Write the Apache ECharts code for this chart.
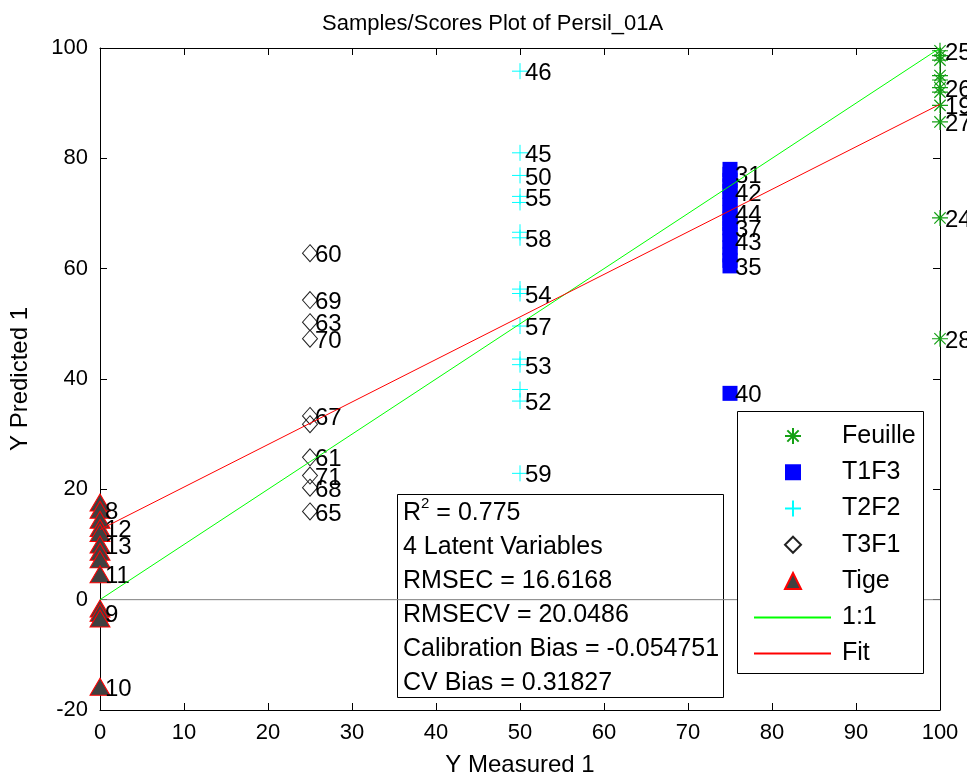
<!DOCTYPE html>
<html>
<head>
<meta charset="utf-8">
<title>Samples/Scores Plot of Persil_01A</title>
<script src="https://cdn.jsdelivr.net/npm/echarts@6/dist/echarts.min.js"></script>
<style>
  html, body { margin: 0; padding: 0; background: #fff; }
  #chart { width: 967px; height: 779px; }
</style>
</head>
<body>
<div id="chart"></div>
<script>
const FONT = '"Liberation Sans", Arial, Helvetica, sans-serif';

// Y measured of each class
const tigeX = 0;
const t3f1X = 25;
const t2f2X = 50;
const t1f3X = 75;
const feuilleX = 100;

// Y predicted, sample labels ('' = label hidden under another one)
const tigeY = [17.6, 16.3, 14.5, 13.0, 12.1, 10.0, 8.7, 7.3, 4.6, -1.6, -2.4, -3.4, -15.8];
const tigeLab = ['', '8', '', '12', '', '13', '', '', '11', '', '9', '', '10'];

const t3f1Y = [62.8, 54.3, 50.3, 47.3, 33.3, 31.8, 25.8, 22.5, 20.3, 16.0];
const t3f1Lab = ['60', '69', '63', '70', '67', '', '61', '71', '68', '65'];

const t2f2Y = [95.8, 81.0, 76.9, 73.1, 72.0, 66.6, 65.6, 56.3, 55.5, 49.6, 43.6, 42.6, 38.1, 36.0, 22.9];
const t2f2Lab = ['46', '45', '50', '55', '', '', '58', '', '54', '57', '', '53', '', '52', '59'];

const t1f3Y = [78.0, 77.1, 76.0, 75.0, 74.0, 72.8, 71.5, 70.2, 69.0, 68.2, 67.4, 66.2, 65.0, 63.8, 62.5, 61.5, 60.5, 37.4];
const t1f3Lab = ['', '31', '', '', '42', '', '', '44', '', '', '37', '', '43', '', '', '', '35', '40'];

const feuilleY = [99.5, 98.6, 97.8, 95.0, 94.2, 92.8, 92.0, 89.6, 86.6, 69.2, 47.3];
const feuilleLab = ['25', '', '', '', '', '26', '', '19', '27', '24', '28'];

const oneToOne = [[0, 0], [100, 100]];
const fitLine = [[0, 12.7], [100, 89.8]];
const zeroLine = [[0, 0], [100, 0]];

const xTicks = { min: 0, max: 100, step: 10 };
const yTicks = { min: -20, max: 100, step: 20 };

const statLines = [
  '{t|R}{sup|2}{t| = 0.775}',
  '4 Latent Variables',
  'RMSEC = 16.6168',
  'RMSECV = 20.0486',
  'Calibration Bias = -0.054751',
  'CV Bias = 0.31827'
];

const markerNames = ['Feuille', 'T1F3', 'T2F2', 'T3F1', 'Tige'];
const lineNames = ['1:1', 'Fit'];
const lineColors = ['#00ff00', '#ff0000'];

function pts(x, ys, labs) {
  return ys.map((y, i) => ({ value: [x, y], name: labs[i] }));
}

const asterisk = 'path://M8,0L8,16M0,8L16,8M2.34,2.34L13.66,13.66M13.66,2.34L2.34,13.66';
const plus = 'path://M8,0L8,16M0,8L16,8';

const pointLabel = {
  show: true,
  position: 'inside',
  align: 'left',
  verticalAlign: 'middle',
  offset: [5, 2.5],
  formatter: '{b}',
  color: '#000',
  opacity: 1,
  textBorderWidth: 0,
  fontSize: 24,
  fontFamily: FONT
};

const axisCommon = {
  type: 'value',
  axisLine: { show: true, onZero: false, lineStyle: { color: '#000', width: 1 } },
  axisTick: { show: true, inside: true, length: 7, lineStyle: { color: '#000' } },
  splitLine: { show: false },
  nameMoveOverlap: false
};

const legendText = { fontSize: 25, color: '#000', fontFamily: FONT };

const chart = echarts.init(document.getElementById('chart'));

chart.setOption({
  animation: false,
  backgroundColor: '#fff',
  textStyle: { fontFamily: FONT },
  title: {
    text: 'Samples/Scores Plot of Persil_01A',
    left: 322,
    top: 13,
    padding: 0,
    textStyle: { fontSize: 22, fontWeight: 'normal', color: '#000', fontFamily: FONT }
  },
  grid: { left: 100, right: 27, top: 48, bottom: 69, containLabel: false, outerBoundsMode: 'none' },
  xAxis: [
    Object.assign({}, axisCommon, {
      position: 'bottom',
      min: xTicks.min, max: xTicks.max, interval: xTicks.step,
      name: 'Y Measured 1',
      nameLocation: 'middle',
      nameGap: 43,
      nameTextStyle: { fontSize: 24, color: '#000', fontFamily: FONT },
      axisLabel: { fontSize: 22, color: '#000', margin: 12, fontFamily: FONT }
    }),
    Object.assign({}, axisCommon, {
      position: 'top',
      min: xTicks.min, max: xTicks.max, interval: xTicks.step,
      axisLabel: { show: false }
    })
  ],
  yAxis: [
    Object.assign({}, axisCommon, {
      position: 'left',
      min: yTicks.min, max: yTicks.max, interval: yTicks.step,
      name: 'Y Predicted 1',
      nameLocation: 'middle',
      nameGap: 68,
      nameTextStyle: { fontSize: 24, color: '#000', fontFamily: FONT },
      axisLabel: { fontSize: 22, color: '#000', margin: 12, fontFamily: FONT }
    }),
    Object.assign({}, axisCommon, {
      position: 'right',
      min: yTicks.min, max: yTicks.max, interval: yTicks.step,
      axisLabel: { show: false }
    })
  ],
  legend: [
    {
      // marker entries
      orient: 'vertical',
      left: 784,
      top: 423.5,
      z: 5,
      data: markerNames,
      itemWidth: 16,
      itemHeight: 16,
      itemGap: 11.25,
      padding: 0,
      selectedMode: false,
      textStyle: Object.assign({ padding: [0, 0, 0, 36] }, legendText)
    },
    {
      // line entries, line only (symbol hidden)
      orient: 'vertical',
      left: 753,
      top: 605,
      z: 5,
      data: lineNames.map(n => ({ name: n, icon: 'inherit', itemStyle: { opacity: 0 } })),
      itemWidth: 77,
      itemHeight: 16,
      itemGap: 11,
      padding: 0,
      selectedMode: false,
      textStyle: Object.assign({ padding: [0, 0, 0, 6] }, legendText)
    }
  ],
  graphic: [
    {
      type: 'rect',
      z: 3,
      shape: { x: 737.5, y: 411.5, width: 186, height: 262 },
      style: { fill: '#fff', stroke: '#000', lineWidth: 1 }
    },
    {
      type: 'group',
      left: 397,
      top: 494,
      z: 100,
      children: [
        {
          type: 'rect',
          shape: { x: 0.5, y: 0.5, width: 326, height: 203 },
          style: { fill: '#fff', stroke: '#000', lineWidth: 1 }
        },
        {
          type: 'text',
          x: 6,
          y: 2,
          style: {
            text: statLines.join('\n'),
            font: '25px ' + FONT,
            fill: '#000',
            lineHeight: 34,
            rich: {
              t: { fontSize: 25, fontFamily: FONT, lineHeight: 34 },
              sup: { fontSize: 15, fontFamily: FONT, lineHeight: 18, verticalAlign: 'top' }
            }
          }
        }
      ]
    }
  ],
  series: [
    {
      name: 'Feuille', type: 'scatter', clip: false,
      symbol: asterisk, symbolSize: 16,
      itemStyle: { color: '#14a014', borderColor: '#14a014', borderWidth: 1.2, opacity: 1 },
      label: pointLabel,
      data: pts(feuilleX, feuilleY, feuilleLab)
    },
    {
      name: 'T1F3', type: 'scatter', clip: false,
      symbol: 'rect', symbolSize: 15,
      itemStyle: { color: '#0000ff', opacity: 1 },
      label: pointLabel,
      data: pts(t1f3X, t1f3Y, t1f3Lab)
    },
    {
      name: 'T2F2', type: 'scatter', clip: false,
      symbol: plus, symbolSize: 16,
      itemStyle: { color: '#00ffff', borderColor: '#00ffff', borderWidth: 1, opacity: 1 },
      label: pointLabel,
      data: pts(t2f2X, t2f2Y, t2f2Lab)
    },
    {
      name: 'T3F1', type: 'scatter', clip: false,
      symbol: 'diamond', symbolSize: [15, 17],
      itemStyle: { color: 'rgba(255,255,255,0)', borderColor: '#222', borderWidth: 1, opacity: 1 },
      label: pointLabel,
      data: pts(t3f1X, t3f1Y, t3f1Lab)
    },
    {
      name: 'Tige', type: 'scatter', clip: false,
      symbol: 'triangle', symbolSize: [20, 17],
      itemStyle: { color: '#404040', borderColor: '#ff0000', borderWidth: 1, opacity: 1 },
      label: pointLabel,
      data: pts(tigeX, tigeY, tigeLab)
    },
    {
      name: '1:1', type: 'line', symbol: 'none', showSymbol: false,
      lineStyle: { color: lineColors[0], width: 1 },
      itemStyle: { color: lineColors[0] },
      data: oneToOne
    },
    {
      name: 'Fit', type: 'line', symbol: 'none', showSymbol: false,
      lineStyle: { color: lineColors[1], width: 1 },
      itemStyle: { color: lineColors[1] },
      data: fitLine
    },
    {
      name: 'zero', type: 'line', symbol: 'none', showSymbol: false, z: 1,
      lineStyle: { color: '#808080', width: 1 },
      itemStyle: { color: '#808080' },
      data: zeroLine
    }
  ]
});
</script>
</body>
</html>
